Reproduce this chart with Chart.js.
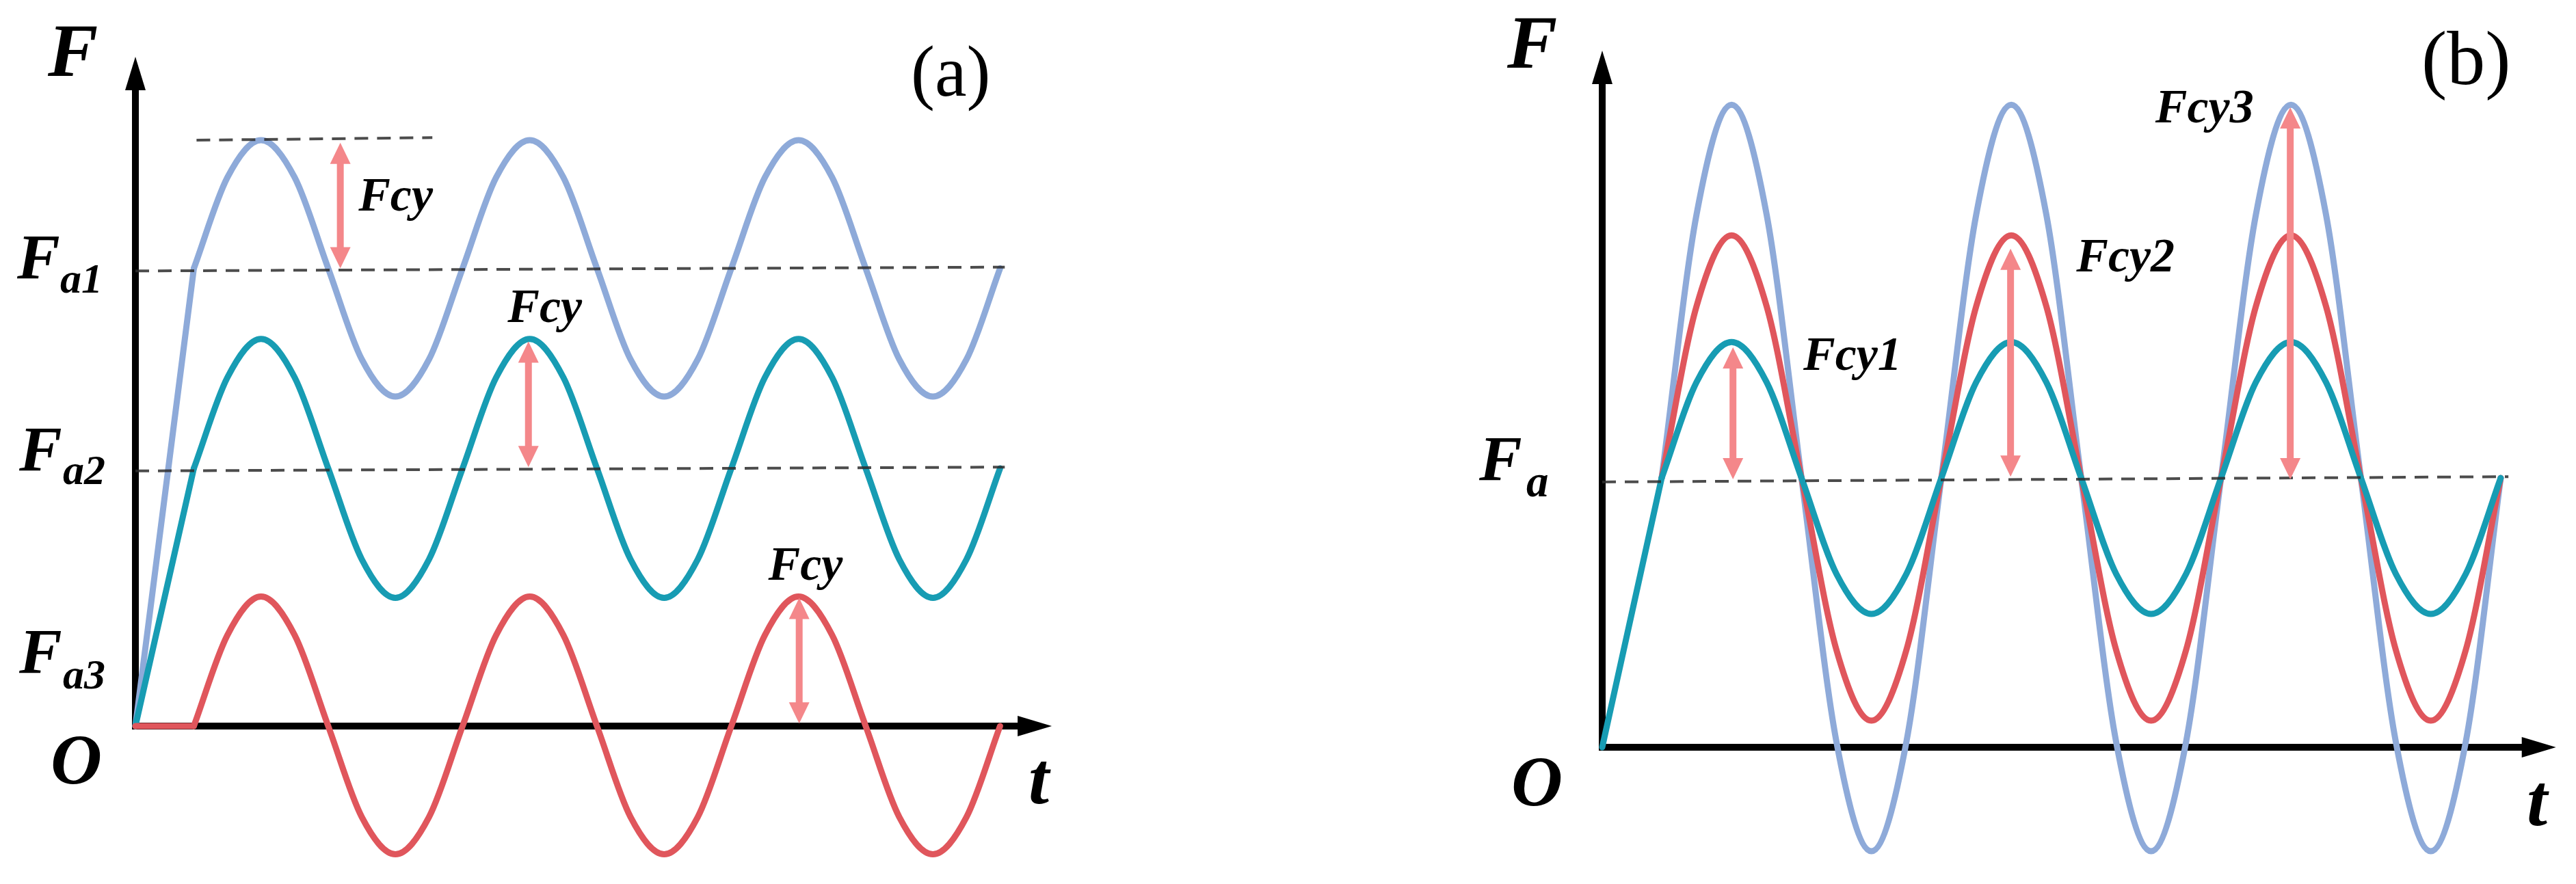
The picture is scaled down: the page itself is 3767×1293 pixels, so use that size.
<!DOCTYPE html>
<html><head><meta charset="utf-8">
<script src="https://cdn.jsdelivr.net/npm/chart.js@4/dist/chart.umd.min.js"></script>
<style>
html,body{margin:0;padding:0;background:#fff;width:3767px;height:1293px;overflow:hidden}
canvas{position:absolute;left:0;top:0}
.pre{position:absolute;left:-9999px;font-family:"Liberation Serif";}
</style></head><body>
<span class="pre" style="font-style:italic;font-weight:bold">Fcy Oat</span>
<span class="pre">(ab)</span>
<canvas id="ca" width="3767" height="1293"></canvas>
<canvas id="cb" width="3767" height="1293"></canvas>
<script>
// ================= Panel (a) data =================
const tA    = [0.87,1.37,1.87,2.37,2.87,3.37,3.87,4.37,4.87,5.37,5.87,6.37,6.87,7.37,7.87,8.37,8.87,9.37,9.87,10.37,10.87,11.37,11.87,12.37,12.87];
const blueA = [3.57,4.28,4.57,4.28,3.57,2.86,2.57,2.86,3.57,4.28,4.57,4.28,3.57,2.86,2.57,2.86,3.57,4.28,4.57,4.28,3.57,2.86,2.57,2.86,3.57];
const tealA = [2.01,2.72,3.02,2.72,2.01,1.30,1.00,1.30,2.01,2.72,3.02,2.72,2.01,1.30,1.00,1.30,2.01,2.72,3.02,2.72,2.01,1.30,1.00,1.30,2.01];
const redA  = [0.00,0.71,1.01,0.71,0.00,-0.71,-1.00,-0.71,0.00,0.71,1.01,0.71,0.00,-0.71,-1.00,-0.71,0.00,0.71,1.01,0.71,0.00,-0.71,-1.00,-0.71,0.00];
const rampTA     = [0, 0.87];
const blueRampA  = [0, 3.57];
const tealRampA  = [0, 2.01];
const redRampA   = [0, 0];
const fa1LineT = [0, 12.94];  const fa1LineV = [3.55, 3.58];
const fa2LineT = [0, 12.94];  const fa2LineV = [1.99, 2.02];
const topLineT = [0.91, 4.42]; const topLineV = [4.57, 4.59];
const arrowTA   = [3.05, 5.85, 9.88];
const arrowTopA = [4.55, 3.00, 1.00];
const arrowBotA = [3.57, 2.02, 0.02];
const fcyLabelsA = ['Fcy','Fcy','Fcy'];
const fcyLabelTA = [3.32, 5.54, 9.42];
const fcyLabelVA = [4.02, 3.15, 1.14];

// ================= Panel (b) data =================
const tB    = [0.85,1.35,1.85,2.35,2.85,3.35,3.85,4.35,4.85,5.35,5.85,6.35,6.85,7.35,7.85,8.35,8.85,9.35,9.85,10.35,10.85,11.35,11.85,12.35,12.85];
const tealB = [2.02,2.74,3.04,2.74,2.02,1.30,1.00,1.30,2.02,2.74,3.04,2.74,2.02,1.30,1.00,1.30,2.02,2.74,3.04,2.74,2.02,1.30,1.00,1.30,2.02];
const redB  = [2.02,3.31,3.84,3.31,2.02,0.73,0.20,0.73,2.02,3.31,3.84,3.31,2.02,0.73,0.20,0.73,2.02,3.31,3.84,3.31,2.02,0.73,0.20,0.73,2.02];
const blueB = [2.02,4.00,4.82,4.00,2.02,0.04,-0.78,0.04,2.02,4.00,4.82,4.00,2.02,0.04,-0.78,0.04,2.02,4.00,4.82,4.00,2.02,0.04,-0.78,0.04,2.02];
const rampTB    = [0, 0.85];
const rampVB    = [0, 2.02];
const faLineT = [0, 12.96];  const faLineV = [1.99, 2.03];
const arrowTB   = [1.87, 5.84, 9.84];
const arrowTopB = [3.00, 3.74, 4.80];
const arrowBotB = [2.01, 2.03, 2.01];
const fcyLabelsB = ['Fcy1','Fcy2','Fcy3'];
const fcyLabelTB = [2.875, 6.78, 7.91];
const fcyLabelVB = [2.83, 3.57, 4.69];

// ================= styles =================
const BLUE = '#8eaad9', TEAL = '#179cb3', RED = '#e0565c', PINK = '#f4878a', DASH = 'rgba(45,45,45,0.85)';
const SERIF = '"Liberation Serif","Times New Roman",serif';

const pts = (xs, ys) => xs.map((x, i) => ({x, y: ys[i]}));
function curve(xs, ys, color, smooth) {
  return {data: pts(xs, ys), borderColor: color, borderWidth: 9, pointRadius: 0, fill: false,
    cubicInterpolationMode: smooth ? 'monotone' : 'default', tension: 0,
    borderCapStyle: 'round', borderJoinStyle: 'round', clip: false};
}
function dashed(xs, ys) {
  return {data: pts(xs, ys), borderColor: DASH, borderWidth: 4, borderDash: [20, 13], pointRadius: 0,
    fill: false, tension: 0, clip: false};
}

function drawAxes(chart) {
  const {ctx, chartArea: ca, scales: {x, y}} = chart;
  const x0 = x.getPixelForValue(0), y0 = y.getPixelForValue(0);
  ctx.save();
  ctx.strokeStyle = '#000'; ctx.fillStyle = '#000'; ctx.lineWidth = 10; ctx.lineCap = 'butt';
  ctx.beginPath(); ctx.moveTo(x0, y0 + 5); ctx.lineTo(x0, ca.top + 45); ctx.stroke();
  ctx.beginPath(); ctx.moveTo(x0 - 5, y0); ctx.lineTo(ca.right - 45, y0); ctx.stroke();
  ctx.beginPath(); ctx.moveTo(x0, ca.top); ctx.lineTo(x0 - 15, ca.top + 49); ctx.lineTo(x0 + 15, ca.top + 49); ctx.closePath(); ctx.fill();
  ctx.beginPath(); ctx.moveTo(ca.right, y0); ctx.lineTo(ca.right - 50, y0 - 15); ctx.lineTo(ca.right - 50, y0 + 15); ctx.closePath(); ctx.fill();
  ctx.restore();
}
function drawPinkArrows(chart, ts, tops, bots) {
  const {ctx, scales: {x, y}} = chart;
  ctx.save();
  ctx.strokeStyle = PINK; ctx.fillStyle = PINK; ctx.lineWidth = 10;
  ts.forEach((t, i) => {
    const px = x.getPixelForValue(t), yt = y.getPixelForValue(tops[i]), yb = y.getPixelForValue(bots[i]);
    const hl = 31, hw = 15;
    ctx.beginPath(); ctx.moveTo(px, yt + hl - 3); ctx.lineTo(px, yb - hl + 3); ctx.stroke();
    ctx.beginPath(); ctx.moveTo(px, yt); ctx.lineTo(px - hw, yt + hl); ctx.lineTo(px + hw, yt + hl); ctx.closePath(); ctx.fill();
    ctx.beginPath(); ctx.moveTo(px, yb); ctx.lineTo(px - hw, yb - hl); ctx.lineTo(px + hw, yb - hl); ctx.closePath(); ctx.fill();
  });
  ctx.restore();
}
function text(ctx, s, x, y, size, style) {
  ctx.font = `${style} ${size}px ${SERIF}`;
  ctx.fillStyle = '#000'; ctx.textAlign = 'left'; ctx.textBaseline = 'alphabetic';
  ctx.fillText(s, x, y);
}
function drawFcy(chart, labels, ts, vs) {
  const {ctx, scales: {x, y}} = chart;
  ctx.save();
  labels.forEach((s, i) => text(ctx, s, x.getPixelForValue(ts[i]), y.getPixelForValue(vs[i]), 70, 'italic bold'));
  ctx.restore();
}

const baseOptions = (pad, xr, yr) => ({
  responsive: false, devicePixelRatio: 1, animation: false, events: [],
  layout: {padding: pad},
  scales: {x: {type: 'linear', display: false, min: xr[0], max: xr[1]},
           y: {type: 'linear', display: false, min: yr[0], max: yr[1]}},
  plugins: {legend: {display: false}, tooltip: {enabled: false}}
});

function build() {
  // ================= Chart (a) =================
  new Chart(document.getElementById('ca'), {
    type: 'line',
    data: {datasets: [
      dashed(fa1LineT, fa1LineV),
      dashed(fa2LineT, fa2LineV),
      dashed(topLineT, topLineV),
      curve(rampTA, redRampA, RED, false),
      curve(tA, redA, RED, true),
      curve(rampTA, tealRampA, TEAL, false),
      curve(tA, tealA, TEAL, true),
      curve(rampTA, blueRampA, BLUE, false),
      curve(tA, blueA, BLUE, true)
    ]},
    options: baseOptions({left: 198, right: 3767 - 1538.1, top: 83, bottom: 1293 - 1277.6}, [0, 13.64], [-1.15, 5.221]),
    plugins: [{
      id: 'decorA',
      beforeDatasetsDraw: drawAxes,
      afterDatasetsDraw(chart) {
        drawPinkArrows(chart, arrowTA, arrowTopA, arrowBotA);
        drawFcy(chart, fcyLabelsA, fcyLabelTA, fcyLabelVA);
        const ctx = chart.ctx; ctx.save();
        text(ctx, 'F', 70, 111, 110, 'italic bold');
        text(ctx, 'F', 25, 407, 94, 'italic bold'); text(ctx, 'a1', 88, 428, 62, 'italic bold');
        text(ctx, 'F', 28, 688, 94, 'italic bold'); text(ctx, 'a2', 92, 708, 62, 'italic bold');
        text(ctx, 'F', 28, 984, 94, 'italic bold'); text(ctx, 'a3', 92, 1007, 62, 'italic bold');
        text(ctx, 'O', 74, 1146, 104, 'italic bold');
        text(ctx, 't', 1504, 1175, 108, 'italic bold');
        text(ctx, '(a)', 1332, 140, 105, 'normal');
        ctx.restore();
      }
    }]
  });

  // ================= Chart (b) =================
  new Chart(document.getElementById('cb'), {
    type: 'line',
    data: {datasets: [
      dashed(faLineT, faLineV),
      curve(rampTB, rampVB, TEAL, false),
      curve(tB, tealB, TEAL, true),
      curve(tB, redB, RED, true),
      curve(tB, blueB, BLUE, true)
    ]},
    options: baseOptions({left: 2343, right: 3767 - 3737.7, top: 74, bottom: 1293 - 1278.25}, [0, 13.64], [-0.95, 5.226]),
    plugins: [{
      id: 'decorB',
      beforeDatasetsDraw: drawAxes,
      afterDatasetsDraw(chart) {
        drawPinkArrows(chart, arrowTB, arrowTopB, arrowBotB);
        drawFcy(chart, fcyLabelsB, fcyLabelTB, fcyLabelVB);
        const ctx = chart.ctx; ctx.save();
        text(ctx, 'F', 2204, 99, 110, 'italic bold');
        text(ctx, 'F', 2163, 702, 94, 'italic bold'); text(ctx, 'a', 2232, 726, 65, 'italic bold');
        text(ctx, 'O', 2210, 1178, 104, 'italic bold');
        text(ctx, 't', 3695, 1207, 108, 'italic bold');
        text(ctx, '(b)', 3541, 123, 112, 'normal');
        ctx.restore();
      }
    }]
  });
}

const fontReady = (document.fonts && document.fonts.load)
  ? Promise.all([
      document.fonts.load('italic bold 100px "Liberation Serif"'),
      document.fonts.load('100px "Liberation Serif"')
    ]).catch(() => null)
  : Promise.resolve();
fontReady.then(build, build);
</script>
</body></html>
